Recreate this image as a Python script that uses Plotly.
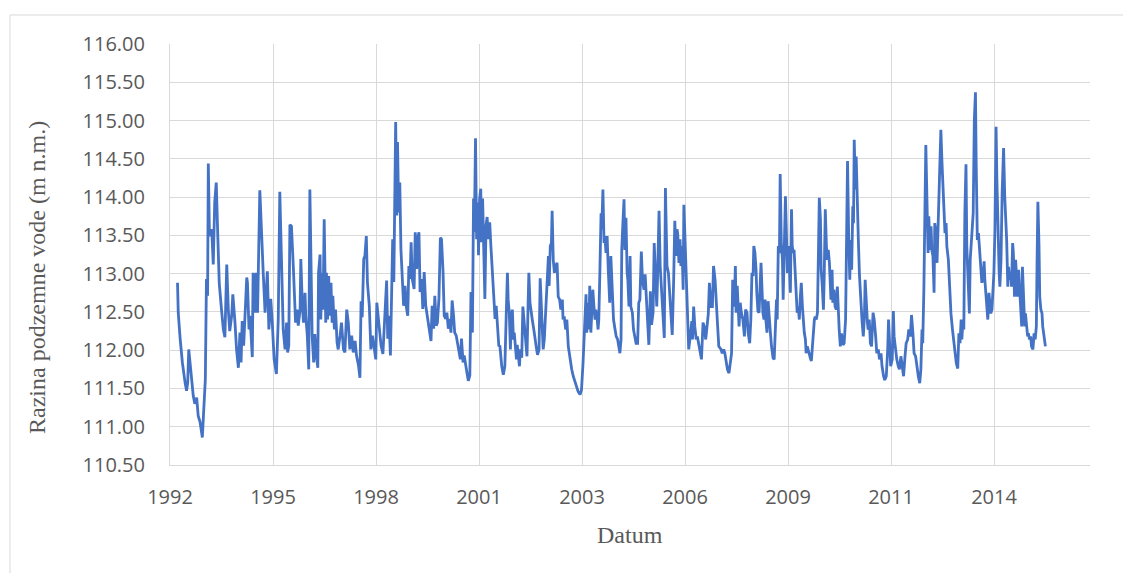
import pandas as pd
import plotly.graph_objects as go

# decimal year of each reading
YEARS = [
1993.00,1993.02,1993.07,1993.13,1993.20,1993.24,1993.27,1993.30,1993.35,1993.38,1993.42,1993.46,1993.51,1993.55,1993.60,1993.66,1993.71,1993.74,1993.77,1993.80,
1993.82,1993.85,1993.91,1993.95,1993.99,1994.03,1994.07,1994.11,1994.17,1994.22,1994.26,1994.31,1994.35,1994.39,1994.44,1994.47,1994.53,1994.57,1994.62,1994.66,
1994.69,1994.72,1994.76,1994.79,1994.84,1994.86,1994.90,1994.93,1994.99,1995.01,1995.06,1995.09,1995.13,1995.19,1995.24,1995.28,1995.33,1995.39,1995.43,1995.48,
1995.52,1995.57,1995.63,
1995.68,1995.72,1995.77,1995.81,1995.86,1995.90,1995.93,1995.96,1995.99,1996.03,1996.08,1996.12,1996.14,1996.18,1996.21,1996.26,1996.28,1996.32,1996.35,1996.39,
1996.41,1996.45,1996.49,1996.52,1996.55,1996.58,1996.62,1996.65,1996.69,1996.73,1996.75,1996.79,1996.81,1996.84,1996.87,1996.90,1996.94,1996.96,1996.99,1997.02,
1997.04,1997.08,1997.11,1997.13,1997.17,1997.20,1997.24,1997.27,1997.32,1997.36,1997.41,1997.45,1997.50,1997.54,1997.58,1997.63,1997.67,1997.72,1997.76,1997.81,
1997.85,1997.88,1997.91,1997.95,1997.98,1998.02,1998.05,1998.10,1998.14,1998.18,1998.22,1998.27,1998.30,1998.36,1998.41,1998.46,
1998.52,1998.56,1998.59,1998.62,1998.66,1998.69,1998.72,1998.75,1998.78,1998.80,1998.83,1998.85,1998.88,1998.91,1998.94,1998.98,1999.01,1999.05,1999.08,1999.12,
1999.15,1999.18,1999.21,1999.24,1999.29,1999.32,1999.36,1999.38,1999.42,1999.45,1999.49,1999.52,1999.56,1999.60,1999.63,1999.67,1999.70,1999.74,1999.77,1999.81,
1999.84,1999.88,1999.91,1999.95,1999.99,2000.02,2000.06,2000.09,2000.13,2000.16,2000.20,2000.23,2000.27,2000.30,2000.34,2000.37,2000.41,2000.45,2000.48,2000.52,
2000.55,2000.59,2000.62,2000.66,2000.69,2000.73,2000.77,2000.80,2000.84,2000.85,2000.87,2000.89,2000.91,2000.92,2000.95,2000.98,2001.00,2001.03,2001.06,2001.08,
2001.11,2001.14,2001.17,2001.20,2001.23,2001.26,2001.30,2001.33,2001.37,2001.40,2001.44,2001.47,2001.51,2001.54,
2001.57,2001.62,2001.66,2001.70,2001.74,2001.77,2001.79,2001.82,2001.85,2001.87,2001.90,2001.93,2001.95,2001.98,2002.01,2002.03,2002.06,2002.09,2002.11,2002.15,
2002.18,2002.21,2002.24,2002.26,2002.29,2002.32,2002.34,2002.37,2002.40,2002.43,2002.47,2002.50,2002.54,2002.57,2002.61,2002.64,2002.67,2002.70,2002.72,2002.75,
2002.78,2002.80,2002.83,2002.86,2002.88,2002.91,2002.94,2002.96,2002.99,2003.02,2003.05,2003.09,2003.12,2003.16,2003.19,2003.23,2003.25,2003.28,2003.32,2003.35,
2003.39,2003.43,2003.48,2003.52,2003.56,2003.61,2003.65,2003.70,2003.74,2003.78,2003.80,2003.83,2003.86,2003.88,2003.91,2003.94,2003.96,2003.99,2004.02,2004.04,
2004.07,2004.10,2004.12,2004.15,2004.18,2004.20,2004.23,2004.26,2004.28,2004.31,2004.34,2004.36,2004.39,2004.42,2004.45,
2004.49,2004.52,2004.56,2004.59,2004.63,2004.66,2004.70,2004.73,2004.76,2004.79,2004.81,2004.84,2004.87,2004.89,2004.92,2004.95,2004.97,2005.00,2005.03,2005.05,
2005.09,2005.12,2005.16,2005.19,2005.23,2005.26,2005.29,2005.33,2005.36,2005.40,2005.43,2005.46,2005.50,2005.53,2005.57,2005.60,2005.64,2005.67,2005.71,2005.74,
2005.76,2005.80,2005.83,2005.87,2005.90,2005.94,2005.97,2006.01,2006.05,2006.08,2006.12,2006.15,2006.19,2006.22,2006.25,2006.28,2006.30,2006.33,2006.36,2006.38,
2006.41,2006.44,2006.46,2006.49,2006.52,2006.56,2006.59,2006.63,2006.67,2006.69,2006.72,2006.75,2006.79,2006.82,2006.86,2006.90,2006.93,2006.97,2007.00,2007.04,
2007.07,2007.11,2007.14,2007.18,2007.22,2007.25,2007.29,2007.32,2007.36,2007.39,
2007.45,2007.48,2007.52,2007.55,2007.59,2007.62,2007.66,2007.69,2007.73,2007.76,2007.80,2007.83,2007.85,2007.88,2007.91,2007.93,2007.96,2007.99,2008.03,2008.07,
2008.10,2008.14,2008.17,2008.21,2008.24,2008.27,2008.30,2008.32,2008.35,2008.38,2008.40,2008.43,2008.46,2008.48,2008.51,2008.54,2008.56,2008.59,2008.62,2008.64,
2008.67,2008.70,2008.72,2008.76,2008.79,2008.83,2008.86,2008.89,2008.92,2008.94,2008.97,2009.00,2009.02,2009.05,2009.08,2009.10,2009.13,2009.16,2009.18,2009.21,
2009.24,2009.26,2009.29,2009.32,2009.34,2009.37,2009.39,2009.42,2009.45,2009.47,2009.50,2009.53,2009.55,2009.58,2009.61,2009.63,2009.66,2009.69,2009.71,2009.74,
2009.77,2009.79,2009.82,2009.85,2009.87,2009.90,2009.93,2009.95,2009.98,2010.01,2010.03,2010.06,2010.09,2010.11,2010.14,2010.17,2010.19,2010.22,2010.25,2010.27,
2010.30,2010.33,
2010.37,2010.40,2010.42,2010.45,2010.48,2010.51,2010.54,2010.56,2010.59,2010.62,2010.65,2010.69,2010.72,2010.76,2010.79,2010.81,2010.84,2010.87,2010.89,2010.92,
2010.95,2010.97,2010.99,2011.02,2011.04,2011.07,2011.10,2011.13,2011.17,2011.20,2011.23,2011.26,2011.28,2011.31,2011.34,2011.36,2011.39,2011.42,2011.45,2011.49,
2011.52,2011.56,2011.59,2011.63,2011.66,2011.70,2011.73,2011.77,2011.80,2011.84,2011.88,2011.90,2011.93,2011.96,2012.00,2012.03,2012.05,2012.09,2012.12,2012.16,
2012.19,2012.23,2012.27,2012.30,2012.34,2012.37,2012.41,2012.44,2012.48,2012.51,2012.55,2012.58,2012.62,2012.65,2012.69,2012.73,2012.76,2012.79,2012.81,2012.84,
2012.87,2012.89,2012.92,2012.95,2012.97,2013.00,2013.03,2013.05,2013.08,2013.11,2013.13,2013.16,2013.19,2013.22,2013.25,
2013.27,2013.29,2013.32,2013.35,2013.37,2013.40,2013.43,2013.45,2013.49,2013.52,2013.56,2013.60,2013.63,2013.67,2013.70,2013.74,2013.77,2013.80,2013.83,2013.85,
2013.88,2013.90,2013.93,2013.96,2013.98,2014.02,2014.05,2014.07,2014.10,2014.13,2014.15,2014.18,2014.21,2014.23,2014.26,2014.29,2014.32,2014.36,2014.38,2014.41,
2014.44,2014.46,2014.49,2014.52,2014.54,2014.57,2014.60,2014.62,2014.65,2014.68,2014.70,2014.73,2014.76,2014.78,2014.81,2014.84,2014.86,2014.89,2014.92,2014.94,
2014.96,2014.99,2015.01,2015.04,2015.07,2015.09,2015.12,2015.15,2015.17,2015.20,2015.22,2015.25,2015.28,2015.30,2015.33,2015.36,2015.38,2015.41,2015.44,2015.46,
2015.49,2015.52,2015.54,2015.57,2015.60,2015.62,2015.65,2015.68,2015.70,2015.74,2015.77,2015.80,2015.83,2015.85,2015.87,2015.90,2015.92,2015.95,2015.98,2016.00,
2016.03,2016.07,
]

# groundwater level (m a.s.l.)
LEVELS = [
112.88,112.49,112.14,111.84,111.58,111.47,111.58,112.01,111.75,111.58,111.40,111.30,111.38,111.14,111.06,110.86,111.32,111.62,112.93,112.71,
114.44,113.49,113.58,113.12,113.93,114.19,113.49,112.88,112.53,112.27,112.17,113.12,112.53,112.25,112.45,112.73,112.36,112.01,111.77,112.23,
111.84,112.38,112.06,112.40,112.95,112.88,112.27,112.45,111.91,113.01,112.49,113.01,112.49,114.09,113.36,113.01,112.49,113.03,112.27,112.67,
112.36,111.88,111.69,
112.40,114.07,112.88,112.27,112.01,112.36,111.97,112.06,113.64,113.62,113.10,112.58,112.36,112.53,112.32,112.53,113.19,112.58,112.36,112.75,
112.45,112.19,111.75,114.10,112.67,112.19,111.84,112.21,111.93,111.77,113.01,113.25,112.40,113.01,112.53,113.71,112.36,113.01,112.40,112.97,
112.45,112.88,112.36,112.71,112.27,112.53,112.10,112.01,112.19,112.36,112.01,111.97,112.53,112.36,112.01,112.19,111.97,112.12,111.93,111.80,
111.64,112.64,112.43,113.19,113.23,113.49,112.88,112.58,112.01,112.19,112.06,111.88,112.62,112.36,112.06,111.95,
112.49,112.91,112.15,112.45,111.93,112.58,113.45,112.89,114.06,114.98,113.76,114.72,113.80,114.19,113.32,112.84,112.58,112.84,112.58,112.45,
113.10,112.93,113.41,112.93,112.80,113.54,113.06,113.45,113.54,112.76,112.93,112.54,113.02,112.58,112.47,112.32,112.23,112.12,112.58,112.28,
112.71,112.32,112.36,112.67,113.47,113.45,113.02,112.45,112.41,112.49,112.28,112.41,112.23,112.65,112.45,112.23,112.19,112.06,111.97,111.88,
112.15,111.84,111.93,111.80,111.67,111.60,111.67,112.76,112.23,112.71,113.98,113.54,114.06,114.77,113.45,113.93,113.24,113.98,114.11,113.41,
113.98,113.37,112.67,113.63,113.74,113.45,113.67,113.37,113.02,112.67,112.41,112.58,112.32,112.06,
112.05,111.79,111.68,111.79,112.49,113.01,112.66,112.49,112.01,112.44,112.53,112.14,112.23,112.01,111.88,112.07,111.92,111.79,112.01,111.90,
112.57,112.40,112.23,112.01,111.92,112.62,113.01,112.62,112.49,112.40,112.27,112.14,112.03,111.94,112.01,112.94,112.57,112.23,112.01,112.14,
112.49,112.66,112.92,113.23,112.84,113.36,113.40,113.82,113.18,113.01,113.10,113.14,112.70,112.66,112.53,112.66,112.40,112.44,112.27,112.40,
112.05,111.88,111.75,111.66,111.59,111.53,111.46,111.42,111.48,111.83,112.01,112.40,112.73,112.23,112.62,112.27,112.84,112.23,112.49,112.79,
112.57,112.40,112.53,112.44,112.27,112.40,113.05,113.79,113.58,114.10,113.40,113.49,113.27,113.49,113.05,
112.62,113.23,112.70,112.40,112.27,112.18,112.14,112.01,111.96,112.14,113.31,113.66,113.97,113.31,113.73,113.01,112.92,112.57,113.23,112.57,
112.49,112.27,112.14,112.09,112.09,112.62,112.66,113.29,112.92,112.79,112.99,112.66,112.36,112.07,112.77,112.33,112.49,113.40,112.92,112.57,
112.92,113.82,113.10,112.70,112.40,112.16,114.12,113.10,113.01,112.75,112.40,112.20,112.92,113.69,113.23,113.58,113.51,113.14,113.45,113.10,
113.36,112.79,113.90,113.45,112.79,112.49,112.01,112.18,112.38,112.14,112.57,112.31,112.14,112.18,112.05,111.96,111.88,112.36,112.31,112.14,
112.31,112.47,112.88,112.57,112.57,113.10,112.92,112.57,112.31,112.05,
112.01,111.96,112.01,111.96,111.83,111.75,111.70,111.79,111.96,112.92,112.57,113.10,112.49,112.84,112.40,112.31,112.62,112.49,112.40,112.18,
112.53,112.49,112.23,112.09,112.40,113.01,112.97,113.36,113.27,113.05,112.75,112.51,112.49,112.79,113.14,112.75,112.49,112.40,112.66,112.40,
112.23,112.64,112.44,112.23,112.05,111.90,111.88,112.40,112.66,112.40,113.36,113.27,114.30,113.40,113.18,112.66,113.18,114.01,113.62,113.01,
113.36,113.18,112.75,113.84,113.36,113.27,113.31,113.01,112.57,112.49,112.57,112.40,112.66,112.88,112.57,112.36,112.23,112.14,111.96,112.05,
112.01,111.96,111.90,111.86,112.01,112.23,112.40,112.44,112.40,112.49,113.36,113.99,113.71,113.05,112.84,112.53,112.92,113.84,113.36,113.18,
113.31,113.14,
112.66,113.05,112.62,112.79,112.57,112.53,112.83,112.49,112.27,112.05,112.22,112.07,112.09,112.40,114.10,114.47,113.49,112.92,113.44,113.05,
113.88,113.66,114.75,114.10,114.53,113.66,113.44,112.97,112.49,112.36,112.18,112.44,112.92,112.57,112.36,112.27,112.40,112.09,112.05,112.49,
112.40,112.18,111.96,112.01,111.88,111.96,111.79,111.66,111.61,111.66,112.01,112.40,111.96,111.79,111.88,112.51,112.18,111.96,111.88,111.79,
111.75,111.92,111.75,111.66,111.92,112.09,112.14,112.27,112.18,112.46,112.22,111.96,111.92,111.79,111.66,111.57,111.75,112.27,112.09,112.79,
113.66,114.68,113.97,113.27,113.75,113.31,113.62,113.31,113.23,112.75,113.66,113.53,113.14,113.66,114.18,
114.27,114.88,114.45,114.01,113.70,113.53,113.66,113.36,113.18,112.75,112.48,112.27,112.09,111.96,111.83,111.76,112.22,112.09,112.40,112.14,
112.40,112.27,113.79,114.43,113.36,112.83,112.48,113.18,113.36,113.66,113.79,115.01,115.37,114.45,113.44,113.53,113.27,113.05,112.88,112.96,
113.16,112.92,112.70,112.48,112.40,112.75,112.57,112.48,112.53,112.88,113.01,113.57,114.92,114.23,113.36,113.01,112.83,113.18,114.05,114.40,
114.64,114.01,113.79,113.44,112.83,113.09,112.92,113.01,112.83,113.40,113.27,112.70,113.18,112.92,112.70,113.05,112.83,112.48,112.31,113.09,
112.66,112.31,112.48,112.31,112.18,112.22,112.14,112.18,112.05,112.01,112.22,112.14,112.31,113.14,113.94,113.36,112.70,112.53,112.48,112.31,
112.22,112.05,
]

TICK_LABELS = ["1992", "1995", "1998", "2001", "2003", "2006", "2009", "2011", "2014"]
X_START = "1992-10-20"
X_END = "2017-04-04"
Y_MIN, Y_MAX, Y_STEP = 110.5, 116.0, 0.5
Y_TITLE = "Razina podzemne vode (m n.m.)"
X_TITLE = "Datum"


def to_date(y):
    yr = int(y)
    start = pd.Timestamp(year=yr, month=1, day=1)
    days = (pd.Timestamp(year=yr + 1, month=1, day=1) - start).days
    return start + pd.Timedelta(days=round((y - yr) * days))


dates = [to_date(y) for y in YEARS]
tick_vals = pd.date_range(X_START, periods=len(TICK_LABELS), freq="1000D")

GRID = "#D9D9D9"
TXT = "#595959"

fig = go.Figure()
fig.add_trace(go.Scatter(
    x=dates, y=LEVELS, mode="lines",
    line=dict(color="#4472C4", width=2.8),
    hoverinfo="x+y", showlegend=False,
))

fig.update_layout(
    width=1123, height=565,
    margin=dict(l=162, r=41, t=36, b=108),
    paper_bgcolor="white", plot_bgcolor="white",
    font=dict(family="Open Sans, sans-serif", color=TXT),
    xaxis=dict(
        type="date", range=[X_START, X_END],
        tickmode="array", tickvals=tick_vals, ticktext=TICK_LABELS,
        showgrid=True, gridcolor=GRID, gridwidth=1,
        showline=True, linecolor=GRID, linewidth=1,
        zeroline=False, ticks="", tickfont=dict(size=20, color=TXT),
        ticklabelstandoff=14,
    ),
    yaxis=dict(
        range=[Y_MIN, Y_MAX], dtick=Y_STEP, tick0=Y_MIN, tickformat=".2f",
        showgrid=True, gridcolor=GRID, gridwidth=1,
        showline=True, linecolor=GRID, linewidth=1,
        zeroline=False, ticks="", tickfont=dict(size=20, color=TXT),
        ticklabelstandoff=20,
    ),
    annotations=[
        dict(text=Y_TITLE, xref="paper", yref="paper", x=-0.1446, y=0.4466,
             textangle=-90, showarrow=False, xanchor="center", yanchor="middle",
             font=dict(family="Liberation Serif, serif", size=24, color=TXT)),
        dict(text=X_TITLE, xref="paper", yref="paper", x=0.5, y=-0.166,
             showarrow=False, xanchor="center", yanchor="middle",
             font=dict(family="Liberation Serif, serif", size=24, color=TXT)),
    ],
    shapes=[
        dict(type="line", xref="paper", yref="paper", x0=-0.1739, x1=1.05,
             y0=1.0689, y1=1.0689, line=dict(color=GRID, width=1)),
        dict(type="line", xref="paper", yref="paper", x0=-0.1739, x1=-0.1739,
             y0=1.0689, y1=-0.27, line=dict(color=GRID, width=1)),
    ],
)

fig.write_html("out.html")
